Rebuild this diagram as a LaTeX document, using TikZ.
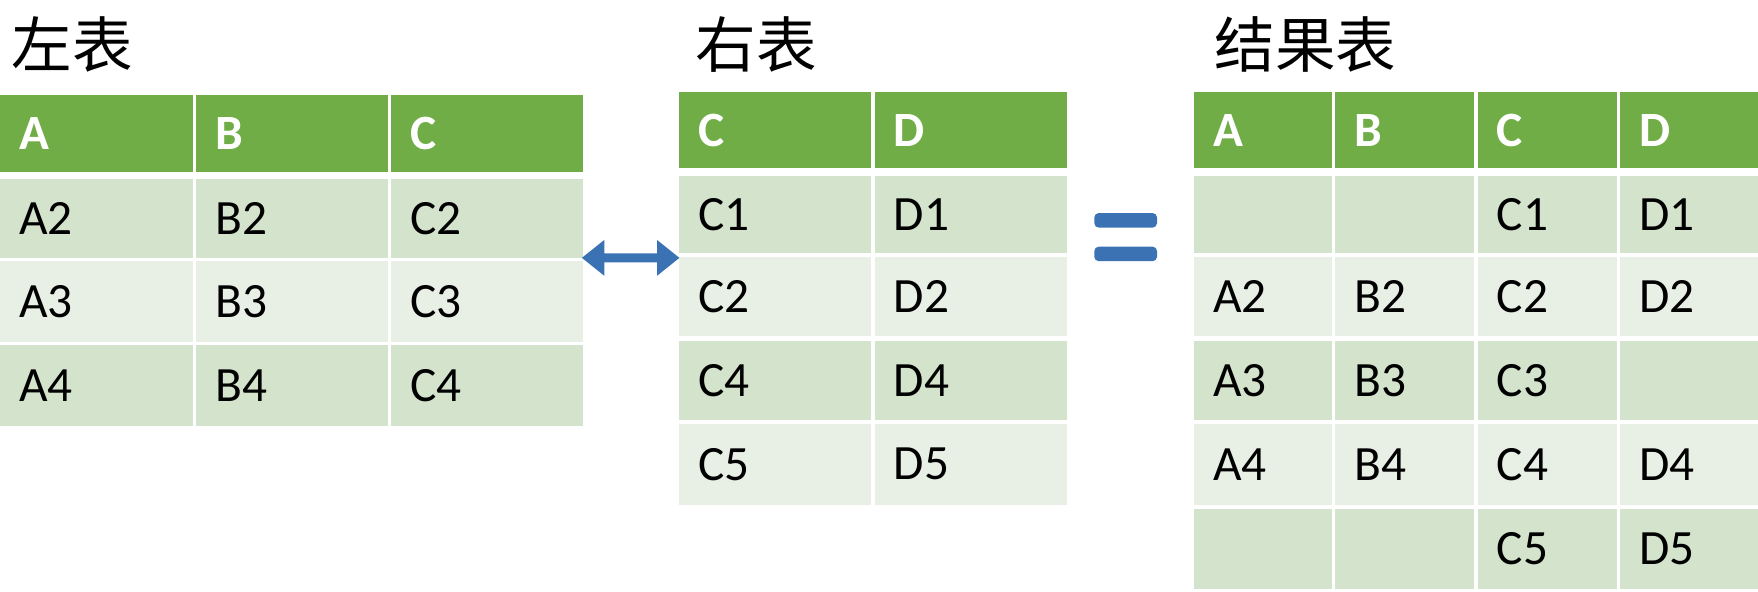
\documentclass[tikz,border=0pt]{standalone}
\usepackage{fontspec}
\setmainfont{Carlito}
\newfontfamily\cjk{Noto Sans CJK SC}
\definecolor{hdr}{HTML}{70AD47}
\definecolor{dk}{HTML}{D3E3CC}
\definecolor{lt}{HTML}{E8EFE5}
\definecolor{blu}{HTML}{3A72B4}
\begin{document}
\begin{tikzpicture}[x=0.5pt,y=-0.5pt,
  cell/.style={fill=#1,draw=none},
  txt/.style={anchor=west,font=\fontsize{22}{26}\selectfont,text=black},
  htxt/.style={anchor=west,font=\fontsize{22}{26}\selectfont\bfseries,text=white},
  title/.style={anchor=base west,font=\cjk\fontsize{27}{30}\selectfont,inner sep=0}]
\useasboundingbox (0,0) rectangle (1568,528);
% \C{x1}{y1}{x2}{y2}{color}{text}{style}{name}
\newcommand\Cl[8]{\fill[#5] (#1,#2) rectangle (#3,#4); \node[#7] (#8) at (#1+10,{(#2+#4)/2}) {#6};}
% titles
\node[title] (t1) at (10,60) {左表};
\node[title] (t2) at (620,60) {右表};
\node[title] (t3) at (1083,60) {结果表};
% left table
\Cl{0}{85}{172}{153}{hdr}{A}{htxt}{la}
\Cl{175}{85}{346}{153}{hdr}{B}{htxt}{lb}
\Cl{349}{85}{520}{153}{hdr}{C}{htxt}{lc}
\Cl{0}{160}{172}{230}{dk}{A2}{txt}{l21}
\Cl{175}{160}{346}{230}{dk}{B2}{txt}{l22}
\Cl{349}{160}{520}{230}{dk}{C2}{txt}{l23}
\Cl{0}{233}{172}{305}{lt}{A3}{txt}{l31}
\Cl{175}{233}{346}{305}{lt}{B3}{txt}{l32}
\Cl{349}{233}{520}{305}{lt}{C3}{txt}{l33}
\Cl{0}{308}{172}{380}{dk}{A4}{txt}{l41}
\Cl{175}{308}{346}{380}{dk}{B4}{txt}{l42}
\Cl{349}{308}{520}{380}{dk}{C4}{txt}{l43}
% right table
\Cl{606}{82}{777}{150}{hdr}{C}{htxt}{rc}
\Cl{780}{82}{952}{150}{hdr}{D}{htxt}{rd}
\Cl{606}{157}{777}{226}{dk}{C1}{txt}{r11}
\Cl{780}{157}{952}{226}{dk}{D1}{txt}{r12}
\Cl{606}{229}{777}{300}{lt}{C2}{txt}{r21}
\Cl{780}{229}{952}{300}{lt}{D2}{txt}{r22}
\Cl{606}{304}{777}{375}{dk}{C4}{txt}{r31}
\Cl{780}{304}{952}{375}{dk}{D4}{txt}{r32}
\Cl{606}{378}{777}{450}{lt}{C5}{txt}{r41}
\Cl{780}{378}{952}{450}{lt}{D5}{txt}{r42}
% result table
\Cl{1065}{82}{1188}{150}{hdr}{A}{htxt}{ea}
\Cl{1191}{82}{1315}{150}{hdr}{B}{htxt}{eb}
\Cl{1318}{82}{1442}{150}{hdr}{C}{htxt}{ec}
\Cl{1445}{82}{1568}{150}{hdr}{D}{htxt}{ed}
\Cl{1065}{157}{1188}{226}{dk}{}{txt}{e11}
\Cl{1191}{157}{1315}{226}{dk}{}{txt}{e12}
\Cl{1318}{157}{1442}{226}{dk}{C1}{txt}{e13}
\Cl{1445}{157}{1568}{226}{dk}{D1}{txt}{e14}
\Cl{1065}{229}{1188}{300}{lt}{A2}{txt}{e21}
\Cl{1191}{229}{1315}{300}{lt}{B2}{txt}{e22}
\Cl{1318}{229}{1442}{300}{lt}{C2}{txt}{e23}
\Cl{1445}{229}{1568}{300}{lt}{D2}{txt}{e24}
\Cl{1065}{304}{1188}{375}{dk}{A3}{txt}{e31}
\Cl{1191}{304}{1315}{375}{dk}{B3}{txt}{e32}
\Cl{1318}{304}{1442}{375}{dk}{C3}{txt}{e33}
\Cl{1445}{304}{1568}{375}{dk}{}{txt}{e34}
\Cl{1065}{378}{1188}{450}{lt}{A4}{txt}{e41}
\Cl{1191}{378}{1315}{450}{lt}{B4}{txt}{e42}
\Cl{1318}{378}{1442}{450}{lt}{C4}{txt}{e43}
\Cl{1445}{378}{1568}{450}{lt}{D4}{txt}{e44}
\Cl{1065}{454}{1188}{525}{dk}{}{txt}{e51}
\Cl{1191}{454}{1315}{525}{dk}{}{txt}{e52}
\Cl{1318}{454}{1442}{525}{dk}{C5}{txt}{e53}
\Cl{1445}{454}{1568}{525}{dk}{D5}{txt}{e54}
% double arrow
\coordinate (aL) at (519,230);
\coordinate (aR) at (606,230);
\fill[blu] (aL) -- ++(20,-16) -- ++(0,12) -- ++(47,0) -- ++(0,-12) -- (aR) -- ++(-20,16) -- ++(0,-12) -- ++(-47,0) -- ++(0,12) -- cycle;
% equals
\fill[blu,rounded corners=2pt] (976,190) rectangle (1032,203);
\fill[blu,rounded corners=2pt] (976,220) rectangle (1032,233);
\end{tikzpicture}
\end{document}
